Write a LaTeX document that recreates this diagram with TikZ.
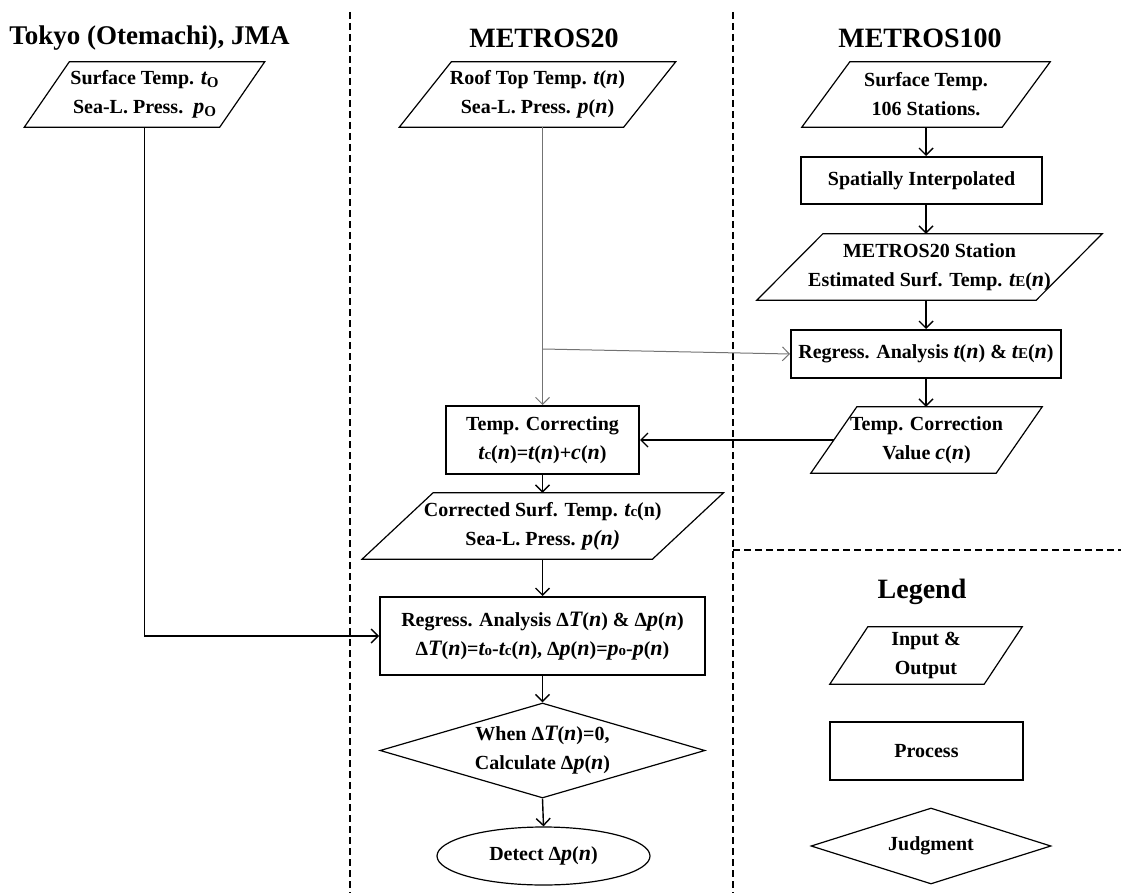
\documentclass[tikz,border=0pt]{standalone}
\usepackage{fontspec}
\setmainfont{Liberation Serif}
\usetikzlibrary{arrows.meta,shapes.geometric,calc}
\newcommand\myv[1]{{\fontsize{22}{22}\selectfont\itshape #1}}
\newcommand\mysb[1]{{\fontsize{15}{15}\selectfont\upshape #1}}
\newcommand\iopar[2]{\draw[iol] ($(#1.north west)+(#2,0)$) -- ($(#1.north east)+(#2,0)$) -- ($(#1.south east)+(-#2,0)$) -- ($(#1.south west)+(-#2,0)$) -- cycle;}
\begin{document}
\begin{tikzpicture}[x=1pt,y=-1pt,
  txt/.style={font=\bfseries\fontsize{20}{29}\selectfont, align=center, inner sep=0pt, text=black},
  ttl/.style={font=\bfseries\fontsize{28}{32}\selectfont, inner sep=0pt},
  iobox/.style={txt, draw=none},
  procbox/.style={txt, draw, line width=2pt},
  iol/.style={line width=1.2pt, line join=miter},
  arr/.style={-{Straight Barb[length=7pt,width=14pt]}, line width=1.4pt},
  trunk/.style={-{Straight Barb[length=7pt,width=14pt]}, line width=1pt, draw=black!55},
  sepline/.style={line width=1.5pt, dash pattern=on 7pt off 4pt}
]
\useasboundingbox (0,0) rectangle (1121,893);

% separators
\coordinate (s1t) at (350,12);
\coordinate (s1b) at (350,893);
\coordinate (s2t) at (733,12);
\coordinate (s2b) at (733,893);
\coordinate (s3r) at (1121,550);
\draw[sepline] (s1t) -- (s1b);
\draw[sepline] (s2t) -- (s2b);
\draw[sepline] (s2t |- s3r) -- (s3r);

% titles
\node[ttl, font=\bfseries\fontsize{27}{32}\selectfont] (t1) at (149.5,38) {Tokyo (Otemachi), JMA};
\node[ttl] (t2) at (544,38) {METROS20};
\node[ttl] (t3) at (920,38) {METROS100};

% Tokyo input
\node[iobox, minimum width=195pt, minimum height=65pt] (tokin) at (144.5,94.5)
  {Surface Temp. \myv{t}\raisebox{-3pt}{\mysb{O}}\\Sea-L. Press.\ \ \myv{p}\raisebox{-3pt}{\mysb{O}}};
\iopar{tokin}{22.5}

% METROS20 input
\node[iobox, minimum width=224pt, minimum height=65pt] (m20in) at (537.5,94.5)
  {Roof Top Temp. \myv{t}(\myv{n})\\Sea-L. Press. \myv{p}(\myv{n})};
\iopar{m20in}{26}

% METROS100 input
\node[iobox, minimum width=200pt, minimum height=65pt] (m100in) at (926,94.5)
  {Surface Temp.\\106 Stations.};
\iopar{m100in}{24}

\node[procbox, minimum width=241pt, minimum height=47pt] (spat) at (921.5,180.5) {Spatially Interpolated};

\node[iobox, minimum width=279pt, minimum height=66pt] (stat) at (929.5,267)
  {METROS20 Station\\Estimated Surf. Temp. \myv{t}\mysb{E}(\myv{n})};
\iopar{stat}{33}

\node[procbox, minimum width=270pt, minimum height=48pt] (rreg) at (926,354)
  {Regress. Analysis \myv{t}(\myv{n}) \& \myv{t}\mysb{E}(\myv{n})};

\node[iobox, minimum width=185pt, minimum height=66pt] (tcv) at (926.5,440)
  {Temp. Correction\\Value \myv{c}(\myv{n})};
\iopar{tcv}{23}

\node[procbox, minimum width=193pt, minimum height=68pt] (tcorr) at (542.5,440)
  {Temp. Correcting\\\myv{t}\mysb{c}(\myv{n})=\myv{t}(\myv{n})+\myv{c}(\myv{n})};

\node[iobox, minimum width=290pt, minimum height=66pt] (corr) at (542.75,526)
  {Corrected Surf. Temp. \myv{t}\mysb{c}(n)\\Sea-L. Press. \myv{p(n)}};
\iopar{corr}{35.5}

\node[procbox, minimum width=325pt, minimum height=78pt] (reg) at (542.5,636)
  {Regress. Analysis Δ\myv{T}(\myv{n}) \& Δ\myv{p}(\myv{n})\\Δ\myv{T}(\myv{n})=\myv{t}\mysb{o}-\myv{t}\mysb{c}(\myv{n}), Δ\myv{p}(\myv{n})=\myv{p}\mysb{o}-\myv{p}(\myv{n})};

\node[txt, diamond, draw, line width=1.2pt, aspect=3.4, minimum width=325pt, minimum height=95pt] (dia) at (542.5,750.5)
  {When Δ\myv{T}(\myv{n})=0,\\Calculate Δ\myv{p}(\myv{n})};

\node[txt, ellipse, draw, line width=1.2pt, minimum width=213pt, minimum height=58pt] (det) at (543.5,856)
  {Detect Δ\myv{p}(\myv{n})};

% legend
\node[ttl] (leg) at (922,592) {Legend};
\node[iobox, minimum width=154pt, minimum height=57pt] (legio) at (926,655.5) {Input \&\\Output};
\iopar{legio}{19}
\node[procbox, minimum width=193pt, minimum height=58pt] (legproc) at (926.5,751) {Process};
\node[txt, diamond, draw, line width=1.2pt, aspect=3.2, minimum width=240pt, minimum height=76pt] (legj) at (931,846) {Judgment};

% connectors
\draw[arr] (m100in.south) -- (m100in.south |- spat.north);
\draw[arr] (spat.south -| m100in.south) -- (stat.north -| m100in.south);
\draw[arr] (stat.south -| rreg.north) -- (rreg.north);
\draw[arr] (rreg.south) -- (tcv.north -| rreg.south);
\draw[arr] (tcv.west) -- (tcorr.east);
\draw[trunk] (m20in.south -| tcorr.north) -- (tcorr.north);
\coordinate (br) at (542.5,349);
\draw[trunk] (br) -- (rreg.west);
\draw[arr] (tcorr.south) -- (corr.north -| tcorr.south);
\draw[arr] (corr.south -| reg.north) -- (reg.north);
\draw[arr] (tokin.south) |- (reg.west);
\draw[arr] (reg.south) -- (dia.north);
\draw[arr] (dia.south) -- (det.north);
\end{tikzpicture}
\end{document}
